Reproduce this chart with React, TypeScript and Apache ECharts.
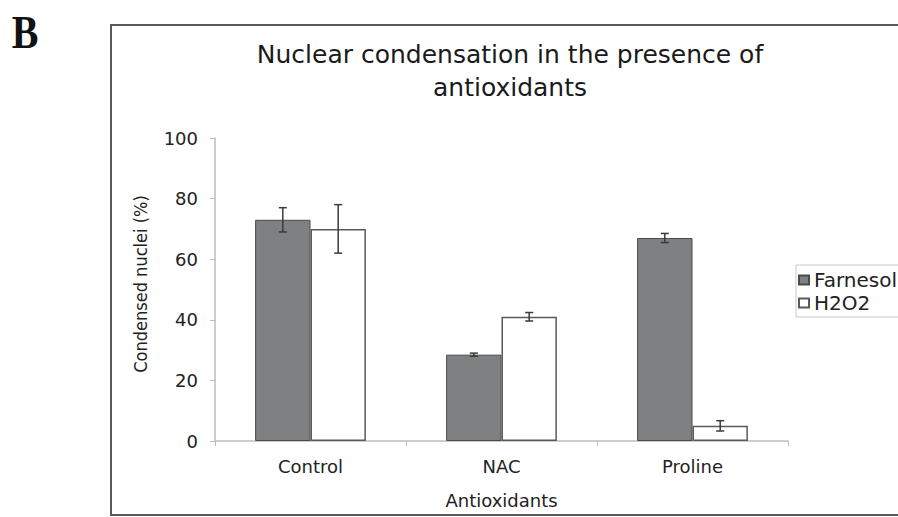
import React, { useEffect, useRef } from "react";
import * as echarts from "echarts";

const categories = ["Control", "NAC", "Proline"];
const farnesolValues = [73, 28.5, 67];
const farnesolErrors = [4, 0.5, 1.5];
const h2o2Values = [70, 41, 5];
const h2o2Errors = [8, 1.4, 1.7];
const yTicks = { min: 0, max: 100, interval: 20 };

const CAT_GAP = 0.42;

function errorSeries(values: number[], errors: number[], side: number, name: string) {
  return {
    type: "custom",
    name,
    z: 10,
    silent: true,
    encode: { x: 0, y: 1 },
    data: values.map((v, i) => [i, v, errors[i]]),
    renderItem: (params: any, api: any) => {
      const i = api.value(0);
      const v = api.value(1);
      const e = api.value(2);
      const catW = api.size([1, 0])[0];
      const barW = (catW * (1 - CAT_GAP)) / 2;
      const c = api.coord([i, v]);
      const x = c[0] + (side * barW) / 2;
      const top = api.coord([i, v + e])[1];
      const bot = api.coord([i, v - e])[1];
      const cap = 4;
      const style = { stroke: "#3a3a3a", lineWidth: 1.5, fill: "none" };
      return {
        type: "group",
        children: [
          { type: "line", shape: { x1: x, y1: top, x2: x, y2: bot }, style },
          { type: "line", shape: { x1: x - cap, y1: top, x2: x + cap, y2: top }, style },
          { type: "line", shape: { x1: x - cap, y1: bot, x2: x + cap, y2: bot }, style },
        ],
      };
    },
  };
}

export default function App() {
  const ref = useRef<HTMLDivElement>(null);
  useEffect(() => {
    if (!ref.current) return;
    const chart = echarts.init(ref.current, null, { renderer: "svg" });
    const font = "'DejaVu Sans', Verdana, sans-serif";
    chart.setOption({
      animation: false,
      backgroundColor: "#ffffff",
      textStyle: { fontFamily: font },
      graphic: [
        {
          type: "text",
          x: 25,
          y: 33,
          scaleY: 1.15,
          style: {
            text: "B",
            font: "bold 40px 'Liberation Serif', serif",
            fill: "#111",
            align: "center",
            verticalAlign: "middle",
          },
        },
        {
          type: "rect",
          shape: { x: 111, y: 25, width: 800, height: 490 },
          style: { fill: "none", stroke: "#5a5a5a", lineWidth: 2 },
          z: -1,
        },
        {
          type: "text",
          x: 510,
          y: 54,
          style: {
            text: "Nuclear condensation in the presence of",
            font: `25px ${font}`,
            fill: "#1a1a1a",
            align: "center",
            verticalAlign: "middle",
          },
        },
        {
          type: "text",
          x: 510,
          y: 87,
          style: {
            text: "antioxidants",
            font: `25px ${font}`,
            fill: "#1a1a1a",
            align: "center",
            verticalAlign: "middle",
          },
        },
        {
          type: "text",
          x: 140,
          y: 284,
          rotation: Math.PI / 2,
          style: {
            text: "Condensed nuclei (%)",
            font: `18px 'DejaVu Sans Condensed', 'DejaVu Sans', sans-serif`,
            fill: "#222",
            align: "center",
            verticalAlign: "middle",
          },
        },
      ],
      legend: {
        left: 796,
        top: 265,
        orient: "vertical",
        icon: "rect",
        itemWidth: 10,
        itemHeight: 9,
        itemGap: 3,
        padding: [5, 30, 4, 2],
        borderColor: "#c8c8c8",
        borderWidth: 1,
        textStyle: { fontSize: 20, color: "#222", lineHeight: 19, fontFamily: font },
        data: ["Farnesol", "H2O2"],
      },
      grid: { left: 215, right: 110, top: 138, bottom: 76 },
      xAxis: {
        type: "category",
        data: categories,
        name: "Antioxidants",
        nameLocation: "middle",
        nameGap: 50,
        nameTextStyle: { fontSize: 18, color: "#222", fontFamily: font },
        axisLine: { lineStyle: { color: "#bdbdbd", width: 1.5 } },
        axisTick: { show: true, length: 5, lineStyle: { color: "#bdbdbd" } },
        axisLabel: { fontSize: 18, color: "#222", margin: 16, fontFamily: font },
      },
      yAxis: {
        type: "value",
        min: yTicks.min,
        max: yTicks.max,
        interval: yTicks.interval,
        splitLine: { show: false },
        axisLine: { show: true, lineStyle: { color: "#bdbdbd", width: 1.5 } },
        axisTick: { show: true, length: 5, lineStyle: { color: "#bdbdbd" } },
        axisLabel: { fontSize: 18, color: "#222", margin: 17, fontFamily: font },
      },
      series: [
        {
          type: "bar",
          name: "Farnesol",
          data: farnesolValues,
          barGap: "0%",
          barCategoryGap: `${CAT_GAP * 100}%`,
          itemStyle: { color: "#7f8081", borderColor: "#4a4a4a", borderWidth: 1 },
        },
        {
          type: "bar",
          name: "H2O2",
          data: h2o2Values,
          barGap: "0%",
          barCategoryGap: `${CAT_GAP * 100}%`,
          itemStyle: { color: "#ffffff", borderColor: "#5a5a5a", borderWidth: 1.5 },
        },
        errorSeries(farnesolValues, farnesolErrors, -1, "FarnesolErr"),
        errorSeries(h2o2Values, h2o2Errors, 1, "H2O2Err"),
      ],
    });
    return () => chart.dispose();
  }, []);
  return (
    <div
      ref={ref}
      style={{ position: "absolute", left: 0, top: 0, width: 898, height: 517 }}
    />
  );
}
